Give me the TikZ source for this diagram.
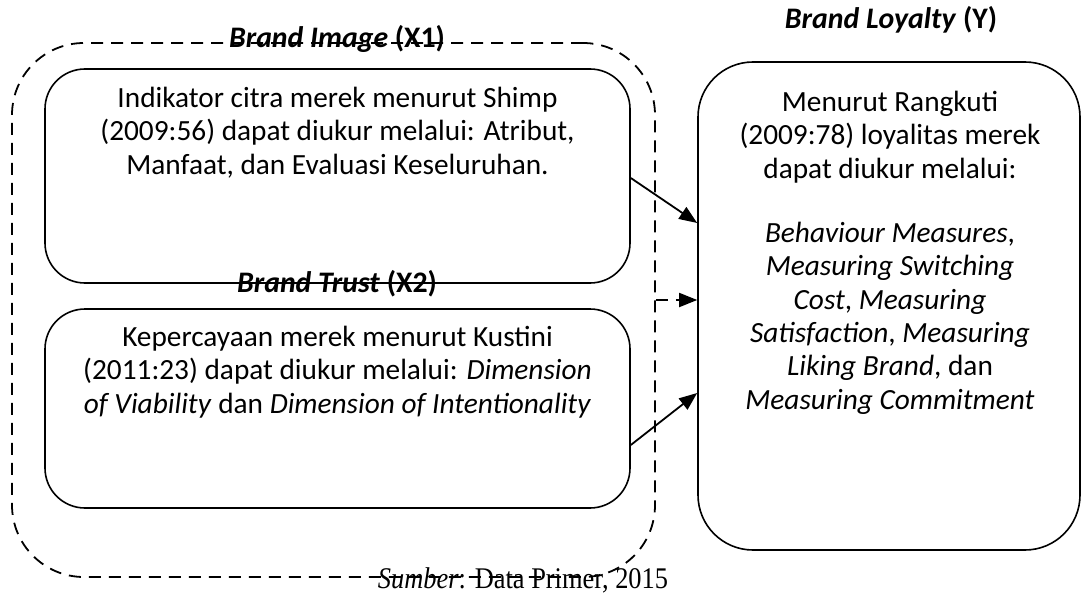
\documentclass[tikz,border=0pt]{standalone}
\usepackage{fontspec}
\setmainfont{Carlito}
\newfontfamily\capfont{Liberation Serif}
\usetikzlibrary{arrows.meta}
\begin{document}
\begin{tikzpicture}[x=1pt,y=-1pt,
  box/.style={draw, line width=1.6pt, inner sep=0pt},
  grpbox/.style={draw, line width=1.8pt, dash pattern=on 12pt off 8pt, rounded corners=72pt, inner sep=0pt},
  txt/.style={font=\fontsize{29.3}{33.3}\selectfont, align=center, inner sep=0pt, anchor=north},
  ttl/.style={font=\fontsize{29.8}{33}\selectfont\bfseries, inner sep=0pt, anchor=base},
  arr/.style={line width=1.8pt, -{Triangle[length=18pt,width=14pt]}},
  darr/.style={arr, dash pattern=on 12pt off 8pt},
]
\useasboundingbox (0,0) rectangle (1084,594);
% group (dashed)
\node[grpbox, minimum width=643pt, minimum height=534pt] (grp) at (333.5,310) {};
% boxes
\node[box, rounded corners=40pt, minimum width=585pt, minimum height=214pt] (b1) at (337.5,176) {};
\node[box, rounded corners=40pt, minimum width=585pt, minimum height=199pt] (b2) at (337.5,408.5) {};
\node[box, rounded corners=55pt, minimum width=382pt, minimum height=488pt] (by) at (889,306) {};
% titles
\node[ttl] (t1) at (337,48) {\textit{Brand Image} (X1)};
\node[ttl] (t2) at (337,292) {\textit{Brand Trust} (X2)};
\node[ttl] (ty) at (891,29) {\textit{Brand Loyalty} (Y)};
% texts
\node[txt] (x1) at (337.5,87) {Indikator citra merek menurut Shimp\\(2009:56) dapat diukur melalui: Atribut,\\Manfaat, dan Evaluasi Keseluruhan.};
\node[txt] (x2) at (337.5,326) {Kepercayaan merek menurut Kustini\\(2011:23) dapat diukur melalui: \textit{Dimension}\\\textit{of Viability} dan \textit{Dimension of Intentionality}};
\node[txt] (xy1) at (890,91) {Menurut Rangkuti\\(2009:78) loyalitas merek\\dapat diukur melalui:};
\node[txt] (xy2) at (890,222) {\textit{Behaviour Measures},\\\textit{Measuring Switching}\\\textit{Cost}, \textit{Measuring}\\\textit{Satisfaction}, \textit{Measuring}\\\textit{Liking Brand}, dan\\\textit{Measuring Commitment}};
% connectors
\draw[arr] ([yshift=-2pt]b1.east) -- ([yshift=83pt]by.west);
\draw[arr] ([yshift=-36.5pt]b2.east) -- ([yshift=-87pt]by.west);
\draw[darr] ([yshift=10pt]grp.east) -- ([yshift=6pt]by.west);
% source
\node[font=\capfont\fontsize{30}{30}\selectfont, anchor=base, inner sep=0pt] (src) at (523,588) {\scalebox{0.88}[1]{\textit{Sumber}: Data Primer, 2015}};
\end{tikzpicture}
\end{document}
